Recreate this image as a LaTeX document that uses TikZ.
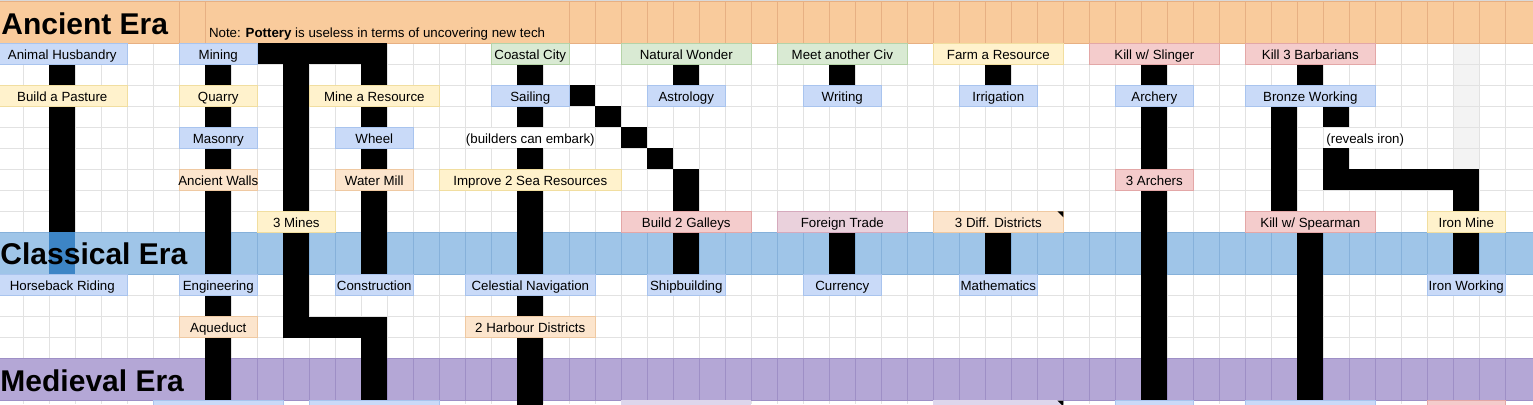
\documentclass[tikz,border=0pt]{standalone}
\usepackage{fontspec}
\setmainfont{Liberation Sans}
\definecolor{lblue}{HTML}{C9DAF8}\definecolor{lblueb}{HTML}{A9C4EE}
\definecolor{lyel}{HTML}{FFF2CC}\definecolor{lyelb}{HTML}{F1DEA0}
\definecolor{lora}{HTML}{FCE5CD}\definecolor{lorab}{HTML}{EFC9A2}
\definecolor{lgre}{HTML}{D9EAD3}\definecolor{lgreb}{HTML}{B5D3A8}
\definecolor{lred}{HTML}{F4CCCC}\definecolor{lredb}{HTML}{E3A7A7}
\definecolor{lmau}{HTML}{EAD1DC}\definecolor{lmaub}{HTML}{D5AABD}
\definecolor{hdrA}{HTML}{F9CB9C}\definecolor{hdrAl}{HTML}{E7B083}
\definecolor{hdrC}{HTML}{9FC5E8}\definecolor{hdrCl}{HTML}{86B1DA}
\definecolor{hdrM}{HTML}{B4A7D6}\definecolor{hdrMl}{HTML}{9E8FC6}
\definecolor{gridc}{HTML}{E2E2E2}
\definecolor{gcol}{HTML}{F3F3F3}
\definecolor{selc}{HTML}{3D85C6}
\definecolor{lav}{HTML}{DDD6EC}
\expandafter\def\csname rt0\endcsname{2}
\expandafter\def\csname rt1\endcsname{43.3}
\expandafter\def\csname rt2\endcsname{64.3}
\expandafter\def\csname rt3\endcsname{85.3}
\expandafter\def\csname rt4\endcsname{106.3}
\expandafter\def\csname rt5\endcsname{127.3}
\expandafter\def\csname rt6\endcsname{148.3}
\expandafter\def\csname rt7\endcsname{169.3}
\expandafter\def\csname rt8\endcsname{190.3}
\expandafter\def\csname rt9\endcsname{211.3}
\expandafter\def\csname rt10\endcsname{232.3}
\expandafter\def\csname rt11\endcsname{274.7}
\expandafter\def\csname rt12\endcsname{295.7}
\expandafter\def\csname rt13\endcsname{316.6}
\expandafter\def\csname rt14\endcsname{337.5}
\expandafter\def\csname rt15\endcsname{358.4}
\expandafter\def\csname rt16\endcsname{400}
\expandafter\def\csname rt17\endcsname{421}
\newcommand\RT[1]{\csname rt\number#1\endcsname}
\newcommand\RB[1]{\csname rt\the\numexpr#1+1\relax\endcsname}
\newcommand\bk[2]{\edef\tmpa{\RT{#2}}\edef\tmpb{\RB{#2}}%
  \fill[black] ({26*#1-28.7},\tmpa) rectangle ({26*#1-2.7},\tmpb);}
\newcommand\bkcol[2]{\foreach \rr in {#2} {\bk{#1}{\rr}}}
\newcommand\lab[6]{\edef\tmpa{\RT{#4}}\edef\tmpb{\RB{#4}}%
  \path[#5] ({26*#2-28.7},\tmpa) rectangle ({26*#3-2.7},\tmpb);
  \node[lbl] (#1) at ({13*(#2+#3)-15.7},\tmpb-5) {#6};}
\begin{document}
\begin{tikzpicture}[x=1pt,y=-1pt,
  lbl/.style={anchor=base,inner sep=0pt,font=\fontsize{13.3}{16}\selectfont,text=black},
  era/.style={anchor=base west,inner sep=0pt,font=\fontsize{30}{36}\selectfont\bfseries,text=black},
  gridl/.style={draw=gridc,line width=1pt},
  cblue/.style={fill=lblue,draw=lblueb,line width=0.8pt},
  cyel/.style={fill=lyel,draw=lyelb,line width=0.8pt},
  cora/.style={fill=lora,draw=lorab,line width=0.8pt},
  cgre/.style={fill=lgre,draw=lgreb,line width=0.8pt},
  cred/.style={fill=lred,draw=lredb,line width=0.8pt},
  cmau/.style={fill=lmau,draw=lmaub,line width=0.8pt}]
\useasboundingbox (0,0) rectangle (1533,404);
\clip (0,0) rectangle (1533,404);
\fill[white] (0,0) rectangle (1533,404);
\fill[gray!30] (0,0) rectangle (1533,2);
% grey column
\fill[gcol] (1453.3,43.3) rectangle (1479.3,169.3);
% light grid
\foreach \k in {1,...,58} {
  \draw[gridl] ({26*\k-2.7},43.3) -- ({26*\k-2.7},232.3);
  \draw[gridl] ({26*\k-2.7},274.7) -- ({26*\k-2.7},358.4);
  \draw[gridl] ({26*\k-2.7},400) -- ({26*\k-2.7},404);}
\foreach \yy in {64.3,85.3,106.3,127.3,148.3,169.3,190.3,211.3,295.7,316.6,337.5}
  \draw[gridl] (0,\yy) -- (1533,\yy);
% overflow text cells (no grid inside)
\fill[white] (466,127.8) rectangle (595,147.8);
\fill[white] (1324,127.8) rectangle (1426.8,147.8);
% era headers
\fill[hdrA] (0,2) rectangle (1533,43.3);
\foreach \k in {7,8,22,23,...,58} \draw[hdrAl,line width=1pt] ({26*\k-2.7},2) -- ({26*\k-2.7},43.3);
\draw[hdrAl,line width=1pt] (0,2) -- (1533,2) (0,43.3) -- (1533,43.3);
\fill[hdrC] (0,232.3) rectangle (1533,274.7);
\foreach \k in {8,...,58} \draw[hdrCl,line width=1pt] ({26*\k-2.7},232.3) -- ({26*\k-2.7},274.7);
\draw[hdrCl,line width=1pt] (0,232.3) -- (1533,232.3) (0,274.7) -- (1533,274.7);
\fill[selc] (49.3,232.3) rectangle (75.3,274.7);
\fill[hdrM] (0,358.4) rectangle (1533,400);
\foreach \k in {8,...,58} \draw[hdrMl,line width=1pt] ({26*\k-2.7},358.4) -- ({26*\k-2.7},400);
\draw[hdrMl,line width=1pt] (0,358.4) -- (1533,358.4) (0,400) -- (1533,400);
\node[era] (ancient) at (1.2,34.3) {Ancient Era};
\node[era] (classical) at (0.3,264.3) {Classical Era};
\node[era] (medieval) at (0.3,391.3) {Medieval Era};
\node[anchor=base west,inner sep=0pt,font=\fontsize{13.3}{16}\selectfont] (note) at (208.8,37.6)
  {Note: \textbf{Pottery} is useless in terms of uncovering new tech};
% black connector cells
\bkcol{3}{2,4,5,6,7,8,9}
\bkcol{9}{2,4,6,8,9,10,12,14,15}
\bkcol{11}{1}
\bkcol{12}{1,2,3,4,5,6,7,8,10,11,12,13}
\bkcol{13}{1,13}
\bkcol{14}{1,13}
\bkcol{15}{1,2,4,6,8,9,10,13,14,15}
\bkcol{21}{2,4,6,8,9,10,12,14,15,16}
\bkcol{23}{3}
\bkcol{24}{4}
\bkcol{25}{5}
\bkcol{26}{6}
\bkcol{27}{2,7,8,10}
\bkcol{33}{2,10}
\bkcol{39}{2,10}
\bkcol{45}{2,4,5,6,8,9,10,11,12,13,14,15}
\bkcol{50}{4,5,6,7,8}
\bkcol{51}{2,10,11,12,13,14,15}
\bkcol{52}{4,6,7}
\bkcol{53}{7}
\bkcol{54}{7}
\bkcol{55}{7}
\bkcol{56}{7}
\bkcol{57}{7,8,10}
% labels: ancient
\lab{anim}{1}{5}{1}{cblue}{Animal Husbandry}
\lab{mining}{8}{10}{1}{cblue}{Mining}
\lab{coastal}{20}{22}{1}{cgre}{Coastal City}
\lab{natwonder}{25}{29}{1}{cgre}{Natural Wonder}
\lab{meetciv}{31}{35}{1}{cgre}{Meet another Civ}
\lab{farmres}{37}{41}{1}{cyel}{Farm a Resource}
\lab{slinger}{43}{47}{1}{cred}{Kill w/ Slinger}
\lab{barb}{49}{53}{1}{cred}{Kill 3 Barbarians}
\lab{pasture}{1}{5}{3}{cyel}{Build a Pasture}
\lab{quarry}{8}{10}{3}{cyel}{Quarry}
\lab{mineres}{13}{17}{3}{cyel}{Mine a Resource}
\lab{sailing}{20}{22}{3}{cblue}{Sailing}
\lab{astrology}{26}{28}{3}{cblue}{Astrology}
\lab{writing}{32}{34}{3}{cblue}{Writing}
\lab{irrigation}{38}{40}{3}{cblue}{Irrigation}
\lab{archery}{44}{46}{3}{cblue}{Archery}
\lab{bronze}{49}{53}{3}{cblue}{Bronze Working}
\lab{masonry}{8}{10}{5}{cblue}{Masonry}
\lab{wheel}{14}{16}{5}{cblue}{Wheel}
\node[lbl] (embark) at (530.3,143.3) {(builders can embark)};
\node[lbl,anchor=base west] (reveals) at (1326.2,143.3) {(reveals iron)};
\lab{walls}{8}{10}{7}{cora}{Ancient Walls}
\lab{watermill}{14}{16}{7}{cora}{Water Mill}
\lab{seares}{18}{24}{7}{cyel}{Improve 2 Sea Resources}
\lab{archers}{44}{46}{7}{cred}{3 Archers}
\lab{mines}{11}{13}{9}{cyel}{3 Mines}
\lab{galleys}{25}{29}{9}{cred}{Build 2 Galleys}
\lab{foreign}{31}{35}{9}{cmau}{Foreign Trade}
\lab{districts}{37}{41}{9}{cora}{3 Diff. Districts}
\fill[black] (1057.3,211.3) -- (1063.3,211.3) -- (1063.3,217.3) -- cycle;
\lab{spearman}{49}{53}{9}{cred}{Kill w/ Spearman}
\lab{ironmine}{56}{58}{9}{cyel}{Iron Mine}
% labels: classical
\lab{horse}{1}{5}{11}{cblue}{Horseback Riding}
\lab{engineering}{8}{10}{11}{cblue}{Engineering}
\lab{construction}{14}{16}{11}{cblue}{Construction}
\lab{celestial}{19}{23}{11}{cblue}{Celestial Navigation}
\lab{shipbuilding}{26}{28}{11}{cblue}{Shipbuilding}
\lab{currency}{32}{34}{11}{cblue}{Currency}
\lab{mathematics}{38}{40}{11}{cblue}{Mathematics}
\lab{ironworking}{56}{58}{11}{cblue}{Iron Working}
\lab{aqueduct}{8}{10}{13}{cora}{Aqueduct}
\lab{harbour}{19}{23}{13}{cora}{2 Harbour Districts}
% partial row below medieval header
\path[cblue] (153.3,400) rectangle (283.3,421);
\path[cblue] (309.3,400) rectangle (439.3,421);
\path[fill=lav] (621.3,400) rectangle (751.3,421);
\path[fill=lav] (933.3,400) rectangle (1063.3,421);
\fill[black] (1057.3,400.5) -- (1063.3,400.5) -- (1063.3,406.5) -- cycle;
\path[cblue] (1115.3,400) rectangle (1193.3,421);
\path[cblue] (1245.3,400) rectangle (1375.3,421);
\path[cred] (1427.3,400) rectangle (1505.3,421);
\end{tikzpicture}
\end{document}
